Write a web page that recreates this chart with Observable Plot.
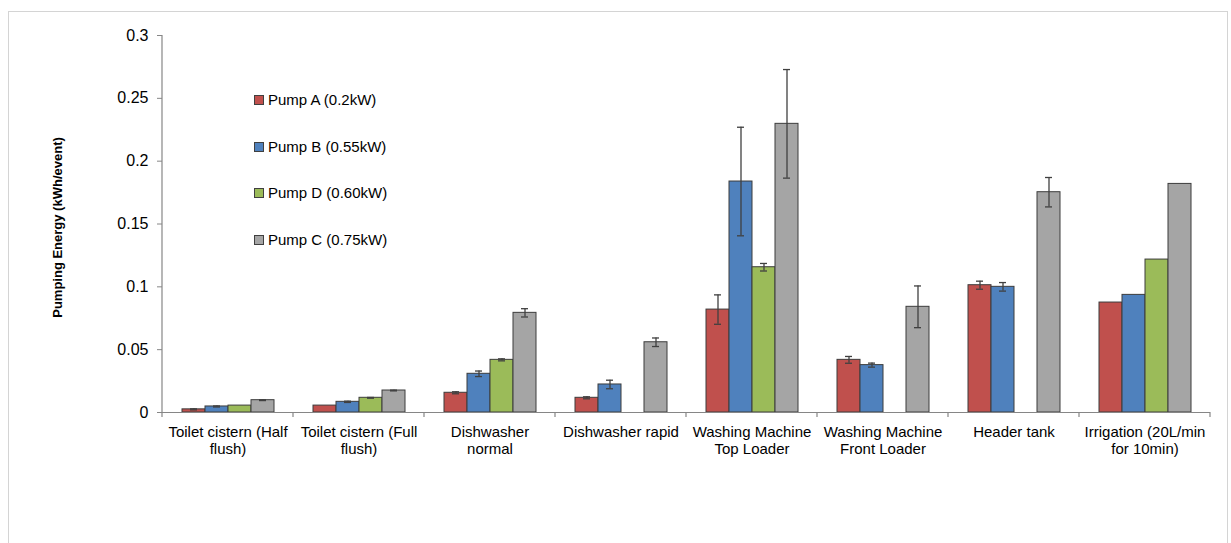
<!DOCTYPE html>
<html>
<head>
<meta charset="utf-8">
<script src="https://cdn.jsdelivr.net/npm/d3@7"></script>
<script src="https://cdn.jsdelivr.net/npm/@observablehq/plot@0.6"></script>
<style>
  html, body { margin: 0; padding: 0; background: #fff; }
  body { font-family: "Liberation Sans", Arial, sans-serif; }
  #wrap { position: relative; width: 1231px; height: 543px; overflow: hidden; }
  #border { position: absolute; left: 8px; top: 11px; width: 1220px; height: 600px; border: 1px solid #d4d4d4; box-sizing: border-box; }
  #chart { position: absolute; left: 0; top: 0; }
  #legend { position: absolute; left: 254px; top: 91px; font-size: 15px; color: #000; }
  #legend .row { height: 46.7px; display: flex; align-items: flex-start; }
  #legend .sw { width: 8px; height: 8px; border: 1px solid #404040; margin-right: 4px; margin-top: 4px; }
</style>
</head>
<body>
<div id="wrap">
  <div id="border"></div>
  <div id="chart"></div>
  <div id="legend"></div>
</div>
<script>
// ---- data ----
const categories = [
  "Toilet cistern (Half flush)",
  "Toilet cistern (Full flush)",
  "Dishwasher normal",
  "Dishwasher rapid",
  "Washing Machine Top Loader",
  "Washing Machine Front Loader",
  "Header tank",
  "Irrigation (20L/min for 10min)"
];
const categoryLabels = [
  "Toilet cistern (Half\nflush)",
  "Toilet cistern (Full\nflush)",
  "Dishwasher\nnormal",
  "Dishwasher rapid",
  "Washing Machine\nTop Loader",
  "Washing Machine\nFront Loader",
  "Header tank",
  "Irrigation (20L/min\nfor 10min)"
];
const pumps = ["Pump A (0.2kW)", "Pump B (0.55kW)", "Pump D (0.60kW)", "Pump C (0.75kW)"];
const pumpColors = ["#C0504D", "#4F81BD", "#9BBB59", "#A5A5A5"];

const pumpA = [0.0025, 0.0055, 0.0157, 0.0117, 0.0819, 0.0419, 0.1013, 0.0875];
const pumpB = [0.0048, 0.0085, 0.0308, 0.0223, 0.1838, 0.0377, 0.1000, 0.0936];
const pumpD = [0.0055, 0.0117, 0.0419, null,   0.1156, null,   null,   0.1217];
const pumpC = [0.0098, 0.0175, 0.0793, 0.0559, 0.2297, 0.0841, 0.1753, 0.1819];

const errA = [0.0004, null,   0.0008, 0.0008, 0.0117, 0.0027, 0.0032, null];
const errB = [0.0004, 0.0005, 0.0022, 0.0034, 0.0432, 0.0016, 0.0034, null];
const errD = [null,   0.0003, 0.0008, null,   0.0030, null,   null,   null];
const errC = [0.0003, 0.0003, 0.0033, 0.0034, 0.0432, 0.0166, 0.0117, null];

const yTicks = [0, 0.05, 0.1, 0.15, 0.2, 0.25, 0.3];
const yLabel = "Pumping Energy (kWh/event)";

// ---- table ----
const seriesValues = [pumpA, pumpB, pumpD, pumpC];
const seriesErrors = [errA, errB, errD, errC];
const rows = [];
categories.forEach((c, i) => {
  pumps.forEach((p, j) => {
    const v = seriesValues[j][i];
    if (v == null) return;
    rows.push({category: c, pump: p, value: v, err: seriesErrors[j][i]});
  });
});
const errRows = rows.filter(d => d.err != null);
const labelOf = new Map(categories.map((c, i) => [c, categoryLabels[i]]));

const font = "'Liberation Sans', Arial, sans-serif";

const plot = Plot.plot({
  width: 1231,
  height: 543,
  marginLeft: 160,
  marginRight: 20,
  marginTop: 35,
  marginBottom: 131,
  style: {fontFamily: font, fontSize: "15px", color: "#000", background: "transparent", overflow: "visible"},
  fx: {domain: categories, padding: 0, label: null, axis: null},
  x: {domain: pumps, paddingInner: 0, paddingOuter: 0.77, axis: null},
  y: {domain: [0, 0.3], axis: null},
  color: {domain: pumps, range: pumpColors},
  marks: [
    Plot.axisY({ticks: yTicks, tickSize: 5, tickPadding: 9, tickFormat: d => String(d), label: null, stroke: "#868686", fontSize: 16}),
    Plot.axisFx({anchor: "bottom", tickSize: 0, tickPadding: 13, tickFormat: d => labelOf.get(d), label: null, lineHeight: 1.1, fontSize: 15}),
    Plot.barY(rows, {fx: "category", x: "pump", y: "value", fill: "pump", stroke: "#3c3c3c", strokeWidth: 1}),
    Plot.ruleY([0], {stroke: "#868686", strokeWidth: 1.2}),
    Plot.ruleX(errRows, {fx: "category", x: "pump", y1: d => d.value - d.err, y2: d => d.value + d.err, stroke: "#404040", strokeWidth: 1.3}),
    Plot.tickY(errRows, {fx: "category", x: "pump", y: d => d.value - d.err, insetLeft: 8, insetRight: 8, stroke: "#404040", strokeWidth: 1.3}),
    Plot.tickY(errRows, {fx: "category", x: "pump", y: d => d.value + d.err, insetLeft: 8, insetRight: 8, stroke: "#404040", strokeWidth: 1.3})
  ]
});

// Category divider ticks, y-axis line and rotated y label, placed with Plot's own scales
const fx = plot.scale("fx");
const ys = plot.scale("y");
const svg = d3.select(plot);
const g = svg.append("g").attr("stroke", "#868686").attr("stroke-width", 1.2);
const y0 = ys.apply(0);
const edges = categories.map(c => fx.apply(c)).concat([fx.apply(categories[categories.length - 1]) + fx.bandwidth]);
edges.forEach(x => {
  g.append("line").attr("x1", x).attr("x2", x).attr("y1", y0).attr("y2", y0 + 5);
});
g.append("line").attr("x1", edges[0]).attr("x2", edges[0]).attr("y1", ys.apply(0.3)).attr("y2", y0);
svg.append("text")
  .attr("transform", `translate(57,${(ys.apply(0.3) + y0) / 2 + 4}) rotate(-90)`)
  .attr("text-anchor", "middle")
  .attr("dy", "0.35em")
  .attr("font-family", font)
  .attr("font-size", 13)
  .attr("font-weight", "bold")
  .attr("fill", "#000")
  .text(yLabel);

document.getElementById("chart").appendChild(plot);

// Legend
const legend = d3.select("#legend");
pumps.forEach((p, j) => {
  const row = legend.append("div").attr("class", "row");
  row.append("div").attr("class", "sw").style("background", pumpColors[j]);
  row.append("span").text(p);
});
</script>
</body>
</html>
